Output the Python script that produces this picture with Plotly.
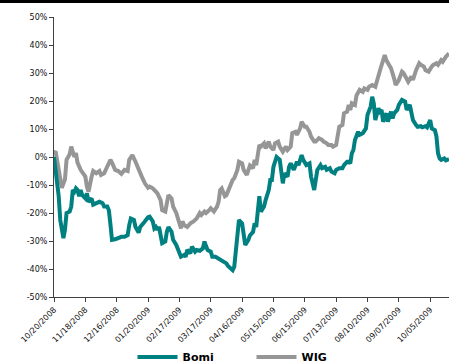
import plotly.graph_objects as go

# trading-day index (20 trading days per labelled tick)
tick_days = [0, 20, 40, 60, 80, 100, 120, 140, 160, 180, 200, 220, 240]
tick_labels = ["10/20/2008", "11/18/2008", "12/16/2008", "01/20/2009", "02/17/2009",
               "03/17/2009", "04/16/2009", "05/15/2009", "06/15/2009", "07/13/2009",
               "08/10/2009", "09/07/2009", "10/05/2009"]

y_ticks = [50, 40, 30, 20, 10, 0, -10, -20, -30, -40, -50]
y_tick_labels = ["50%", "40%", "30%", "20%", "10%", "0%", "-10%", "-20%", "-30%", "-40%", "-50%"]

bomi_days = [0, 1, 3, 4, 5, 6, 7, 8, 10, 11, 12, 13, 14, 15, 16, 17, 18, 20, 21, 22, 24, 25, 27, 29,
             31, 32, 34, 35, 36, 37, 39, 41, 43, 45, 47, 48, 49, 51, 52, 54, 55, 57, 59, 60, 61, 63,
             64, 65, 66, 67, 69, 71, 72, 73, 75, 76, 78, 80, 81, 83, 84, 85, 87, 88, 90, 91, 93, 95,
             96, 97, 98, 100, 101, 103, 105, 106, 108, 110, 111, 113, 114, 115, 116, 117, 118, 120,
             121, 122, 124, 125, 127, 128, 129, 130, 131, 132, 134, 135, 137, 138, 139, 140, 142,
             144, 145, 146, 147, 149, 150, 151, 153, 155, 156, 158, 159, 161, 163, 164, 166, 167,
             168, 170, 171, 173, 174, 176, 177, 179, 180, 182, 184, 185, 187, 188, 189, 190, 191,
             192, 194, 195, 197, 199, 200, 202, 203, 204, 205, 207, 208, 209, 210, 212, 213, 215,
             216, 217, 219, 220, 222, 224, 225, 227, 228, 229, 231, 232, 234, 235, 237, 238, 240,
             241, 243, 244, 245, 246, 247, 249, 250, 252]
bomi = [0, -4.6, -14, -22.5, -27, -29, -26, -20, -19.5, -17.7, -11.8, -12.4, -11.2, -11.8, -14,
        -11.8, -13.6, -14.8, -13, -16, -14.8, -17, -16.5, -16, -16.5, -17.7, -17.7, -19, -24,
        -29.6, -29.4, -29, -28.5, -28.5, -27.9, -24.3, -22, -22.5, -25, -27, -25, -23.7, -22,
        -21.5, -21.3, -23, -25.5, -25, -26, -25, -30.8, -30.2, -26.7, -25, -26.7, -29.6, -31.4,
        -34.4, -35.6, -35, -35.6, -33.2, -34.4, -32, -33.8, -33.2, -33.5, -32.6, -30.2, -31.8,
        -33.2, -33.8, -35.6, -35.6, -36.2, -36.8, -37.4, -38, -38.9, -39.8, -40.4, -39.2, -34.4,
        -29.6, -22.5, -23.7, -28.5, -31.4, -29.6, -28, -26.7, -23.7, -25, -20, -14, -19.5, -17.7,
        -15.4, -11.8, -8.2, -8.2, -3.5, 0, -1, -4.6, -9.4, -5.8, -7, -3.5, -2.3, -4.6, -1.7,
        -2.9, 0.7, -1, -2.9, -2.3, -7, -11.8, -8.2, -4.6, -2.9, -4, -3.5, -4.6, -4, -5.2, -5.8,
        -4.6, -4, -4, -2.9, -1.7, -1.7, -2.3, 1.3, 2.5, 6.1, 9, 7.9, 8.5, 10.2, 15, 18, 21.5,
        19.2, 13.2, 17.4, 16.2, 16.8, 12.6, 15.6, 12.6, 16.2, 13.8, 15.6, 16.8, 18.6, 20.4, 19.8,
        16.8, 18.6, 16.2, 13.2, 11.4, 10.8, 11, 10.6, 11, 10.6, 13.2, 10.2, 9.6, 7.3, 1.3, -0.5,
        -1, -0.5, -1.2, -0.8]

wig_days = [0, 1, 5, 7, 8, 10, 11, 13, 14, 15, 17, 20, 21, 22, 24, 25, 27, 29, 30, 32, 34, 36, 37,
            39, 41, 43, 45, 47, 48, 50, 52, 54, 56, 58, 60, 61, 63, 65, 66, 68, 69, 71, 72, 73, 75,
            76, 78, 80, 81, 82, 83, 85, 87, 89, 91, 93, 94, 96, 97, 99, 100, 102, 104, 105, 106,
            107, 109, 110, 112, 114, 115, 117, 118, 120, 121, 123, 125, 127, 128, 129, 131, 132,
            134, 135, 137, 138, 140, 141, 143, 144, 146, 148, 149, 151, 152, 154, 155, 157, 158,
            160, 161, 163, 164, 166, 167, 169, 171, 172, 174, 175, 177, 178, 180, 181, 182, 184,
            185, 187, 188, 189, 190, 192, 193, 195, 197, 198, 200, 201, 203, 205, 206, 208, 210,
            211, 212, 214, 215, 217, 218, 220, 222, 223, 225, 226, 228, 229, 231, 233, 234, 236,
            237, 239, 241, 242, 244, 245, 247, 248, 250, 252]
wig = [1.5, 2, -11, -8, -1, 1, 3.7, 0, 1.4, -2, -4.6, -7, -10.6, -12.4, -7, -5, -5.8, -5, -6.4,
       -5.8, -3.4, -1, -2, -4.6, -5, -6, -4.6, -5, -1, 0.7, -1.7, -4.6, -7, -9.4, -11, -10.6,
       -11.2, -12.4, -13, -15.4, -19, -19.5, -16.5, -13.6, -14.8, -17.7, -20, -24.3, -25.5, -23,
       -24.3, -25, -23.7, -23, -22, -20, -20.7, -19.5, -20, -19, -18.3, -19.5, -17.7, -16, -11.8,
       -11.2, -14, -13.6, -10.6, -8.2, -7.6, -4.6, -1.7, -2.3, -4.6, -6.4, -3, -4, -1, -2.9, 4.3,
       3.7, 4.9, 3.1, 5.5, 3.7, 2.5, 4.9, 5.5, 3.7, 1.9, 3.7, 2.5, 3.7, 8.5, 9, 7.9, 10.2, 12.6,
       10.8, 10.8, 9, 7.3, 5.5, 5.5, 6.7, 6.1, 5.5, 4.9, 4.3, 4.3, 3.7, 4.3, 7.3, 10.8, 11.4,
       15.6, 16.2, 18.6, 16.8, 19.2, 18.6, 22, 24, 23.3, 24.5, 24, 25.1, 25.7, 25.1, 27.5, 31,
       34.6, 36.4, 34.6, 32.8, 31.7, 28, 25.7, 27.5, 30.5, 30, 28, 26.9, 28.7, 27.5, 31, 33.5,
       32.9, 32.3, 31, 30.5, 32.3, 32.9, 33.5, 32.9, 34.6, 34, 35.8, 37]

TEAL = "#008080"
GRAY = "#969696"
FONT = "DejaVu Sans"

fig = go.Figure()
fig.add_trace(go.Scatter(x=wig_days, y=wig, mode="lines", name="WIG",
                         line=dict(color=GRAY, width=4)))
fig.add_trace(go.Scatter(x=bomi_days, y=bomi, mode="lines", name="Bomi",
                         line=dict(color=TEAL, width=4)))

fig.update_layout(
    width=449, height=364,
    margin=dict(l=54, r=0, t=17, b=67, autoexpand=False),
    paper_bgcolor="white", plot_bgcolor="white",
    font=dict(family=FONT, size=8, color="#222222"),
    showlegend=True,
    legend=dict(orientation="h", x=0.50, xanchor="center", y=-0.214, yanchor="middle",
                traceorder="reversed", itemwidth=40, entrywidth=64, entrywidthmode="pixels",
                font=dict(family=FONT, size=11, color="black", weight="bold"),
                bgcolor="rgba(0,0,0,0)"),
    xaxis=dict(range=[0, 252], tickvals=tick_days, ticktext=tick_labels, tickangle=-45,
               automargin=False,
               showgrid=False, zeroline=False, showline=True, linecolor="#404040", linewidth=1,
               ticks="outside", ticklen=4, tickcolor="#404040",
               tickfont=dict(family=FONT, size=8, color="#111111")),
    yaxis=dict(range=[-50, 50], tickvals=y_ticks, ticktext=y_tick_labels,
               automargin=False,
               showgrid=False, zeroline=False, showline=True, linecolor="#404040", linewidth=1,
               ticks="outside", ticklen=4, tickcolor="#404040",
               tickfont=dict(family=FONT, size=8, color="#111111")),
    shapes=[dict(type="rect", xref="paper", yref="paper", x0=-54/395, x1=1.0,
                 y0=1 + 14/280, y1=1 + 17.5/280, fillcolor="black", line=dict(width=0),
                 layer="above")],
)

fig.write_html("out.html")
